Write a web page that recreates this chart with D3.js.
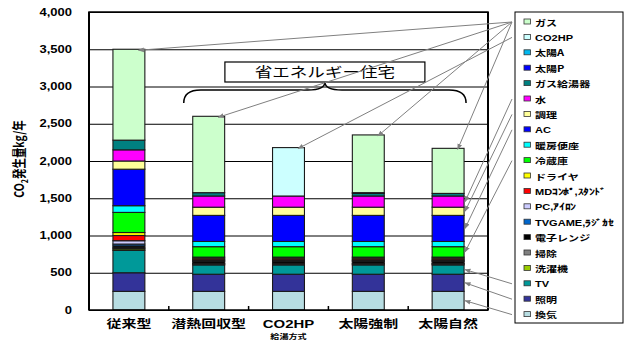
<!DOCTYPE html>
<html>
<head>
<meta charset="UTF-8">
<title>CO2発生量</title>
<script src="https://cdn.jsdelivr.net/npm/d3@7/dist/d3.min.js"></script>
<style>
body { margin: 0; background: #fff; }
svg { display: block; }
</style>
</head>
<body>
<div id="chart"></div>
<script>
// categories (給湯方式)
const cats = ["従来型", "潜熱回収型", "CO2HP", "太陽強制", "太陽自然"];

// series, bottom of stack first; one value per category (kg/年)
const kanki    = [250, 250, 250, 250, 250];   // 換気
const shomei   = [250, 230, 230, 230, 230];   // 照明
const tv       = [300, 125, 125, 125, 125];   // TV
const sentaku  = [20, 10, 10, 10, 10];        // 洗濯機
const soji     = [15, 10, 10, 10, 10];        // 掃除
const range_   = [25, 25, 25, 25, 25];        // 電子レンジ
const tvgame   = [25, 15, 15, 15, 15];        // TVGAME,ラジカセ
const pc       = [45, 10, 10, 10, 10];        // PC,アイロン
const mdcombo  = [70, 20, 20, 20, 20];        // MDコンポ,スタンド
const dryer    = [40, 15, 15, 15, 15];        // ドライヤ
const reizoko  = [270, 140, 140, 140, 140];   // 冷蔵庫
const benza    = [90, 70, 70, 70, 70];        // 暖房便座
const ac       = [490, 350, 350, 350, 350];   // AC
const chori    = [110, 110, 110, 110, 110];   // 調理
const mizu     = [150, 150, 150, 150, 150];   // 水
const kyuto    = [130, 45, 0, 35, 35];        // ガス給湯器
const taiyoP   = [0, 0, 0, 10, 0];            // 太陽P
const taiyoA   = [0, 0, 0, 0, 0];             // 太陽A
const co2hp    = [0, 0, 650, 0, 0];           // CO2HP
const gas      = [1220, 1025, 0, 775, 605];   // ガス

const seriesNames = ["換気", "照明", "TV", "洗濯機", "掃除", "電子レンジ", "TVGAME,ﾗｼﾞｶｾ",
  "PC,ｱｲﾛﾝ", "MDｺﾝﾎﾟ,ｽﾀﾝﾄﾞ", "ドライヤ", "冷蔵庫", "暖房便座", "AC", "調理", "水",
  "ガス給湯器", "太陽P", "太陽A", "CO2HP", "ガス"];
const seriesValues = [kanki, shomei, tv, sentaku, soji, range_, tvgame, pc, mdcombo, dryer,
  reizoko, benza, ac, chori, mizu, kyuto, taiyoP, taiyoA, co2hp, gas];
const seriesColors = ["#b7dde2", "#333399", "#009999", "#99cc00", "#808080", "#000000", "#0066cc",
  "#ccccff", "#ff0000", "#ffff00", "#00ff00", "#00ffff", "#0000ff", "#ffff99", "#ff00ff",
  "#008080", "#0000ff", "#00b8f0", "#ccffff", "#ccffcc"];

const yTicks = [0, 500, 1000, 1500, 2000, 2500, 3000, 3500, 4000];

// leader arrows: legend item -> bar index, where to point
const leaders = [
  ["ガス", 0, "top"], ["ガス", 1, "top"], ["CO2HP", 2, "top"], ["ガス", 3, "top"], ["ガス", 4, "top"],
  ["水", 4, "side"], ["調理", 4, "side"], ["AC", 4, "side"], ["冷蔵庫", 4, "side"],
  ["TV", 4, "side"], ["照明", 4, "side"], ["換気", 4, "side"]
];

const W = 628, H = 340;
const SX = 1.3; // the original text is stretched sideways
const jp = "'Noto Sans CJK JP', 'Noto Sans', sans-serif";
const lat = "'Liberation Sans', Arial, sans-serif";

const svg = d3.select("#chart").append("svg")
  .attr("width", W).attr("height", H);
svg.append("rect").attr("width", W).attr("height", H).attr("fill", "#fff");

const plot = {left: 89, right: 488, top: 12, bottom: 310};

const x = d3.scaleBand().domain(cats)
  .range([plot.left, plot.right])
  .paddingInner(0.6).paddingOuter(0.3);
const y = d3.scaleLinear().domain([0, 4000]).range([plot.bottom, plot.top]);

// table for d3.stack
const table = cats.map(function(c, i) {
  const row = {cat: c};
  seriesNames.forEach(function(s, k) { row[s] = seriesValues[k][i]; });
  return row;
});
const stacked = d3.stack().keys(seriesNames)(table);

// gridlines
svg.append("g")
  .attr("transform", "translate(" + plot.left + ",0)")
  .call(d3.axisLeft(y).tickValues(yTicks).tickSize(-(plot.right - plot.left)).tickFormat(""))
  .call(function(g) {
    g.select(".domain").remove();
    g.selectAll("line").attr("stroke", "#000").attr("stroke-width", 1);
  });

// bars
const layer = svg.append("g").selectAll("g")
  .data(stacked).enter().append("g")
  .attr("fill", function(d, k) { return seriesColors[k]; });

layer.selectAll("rect")
  .data(function(d) { return d.filter(function(p) { return p[1] - p[0] > 0; }); })
  .enter().append("rect")
  .attr("x", function(p) { return x(p.data.cat); })
  .attr("y", function(p) { return y(p[1]); })
  .attr("width", x.bandwidth())
  .attr("height", function(p) { return y(p[0]) - y(p[1]); })
  .attr("stroke", "#1a1a1a")
  .attr("stroke-width", 1.1);

// frame
svg.append("rect")
  .attr("x", plot.left).attr("y", plot.top)
  .attr("width", plot.right - plot.left).attr("height", plot.bottom - plot.top)
  .attr("fill", "none").attr("stroke", "#000").attr("stroke-width", 1.5);
svg.append("line")
  .attr("x1", plot.left).attr("x2", plot.left)
  .attr("y1", plot.top).attr("y2", plot.bottom)
  .attr("stroke", "#000").attr("stroke-width", 2);
svg.append("line")
  .attr("x1", plot.right).attr("x2", plot.right)
  .attr("y1", plot.top).attr("y2", plot.bottom)
  .attr("stroke", "#000").attr("stroke-width", 2);

// little ticks between categories on the bottom
const step = x.step();
svg.append("g").selectAll("line")
  .data(cats.slice(1))
  .enter().append("line")
  .attr("x1", function(c) { return x(c) - (step - x.bandwidth()) / 2; })
  .attr("x2", function(c) { return x(c) - (step - x.bandwidth()) / 2; })
  .attr("y1", plot.bottom).attr("y2", plot.bottom - 4)
  .attr("stroke", "#000").attr("stroke-width", 1.5);

// y axis labels
svg.append("g")
  .attr("transform", "translate(" + plot.left + ",0)")
  .call(d3.axisLeft(y).tickValues(yTicks).tickSize(0).tickFormat(d3.format(",")))
  .call(function(g) {
    g.select(".domain").remove();
    g.selectAll("text")
      .attr("x", 0)
      .attr("transform", "translate(-17,0) scale(" + SX + ",1)")
      .attr("font-family", lat).attr("font-weight", "bold")
      .attr("font-size", 10).attr("fill", "#000");
  });

// helper for stretched text
function label(parent, px, py, str, size, opts) {
  opts = opts || {};
  const g = parent.append("g")
    .attr("transform", "translate(" + px + "," + py + ") scale(" + SX + ",1)");
  return g.append("text")
    .attr("text-anchor", opts.anchor || "middle")
    .attr("font-family", opts.family || jp)
    .attr("font-weight", opts.weight || "bold")
    .attr("font-size", size)
    .attr("fill", "#000")
    .text(str);
}

// x labels
cats.forEach(function(c) {
  label(svg, x(c) + x.bandwidth() / 2, 327.5, c, 11.5, {family: c === "CO2HP" ? lat : jp});
});
label(svg, x("CO2HP") + x.bandwidth() / 2, 338.5, "給湯方式", 7);

// y title with subscript 2
const yt = svg.append("g")
  .attr("transform", "translate(24,159) scale(" + SX + ",1) rotate(-90)")
  .append("text")
  .attr("text-anchor", "middle")
  .attr("font-family", jp).attr("font-weight", "bold")
  .attr("font-size", 10.5).attr("fill", "#000");
yt.append("tspan").text("CO");
yt.append("tspan").attr("font-size", 7).attr("dy", 3).text("2");
yt.append("tspan").attr("dy", -3).text("発生量kg/年");

// brace + box for 省エネルギー住宅
const bx0 = x(cats[1]) - 9, bx1 = x(cats[4]) + x.bandwidth() + 2;
const bmid = (bx0 + bx1) / 2, by = 90;
svg.append("path")
  .attr("d", "M" + bx0 + "," + (by + 13) + " Q" + bx0 + "," + by + " " + (bx0 + 17) + "," + by +
    " L" + (bmid - 17) + "," + by + " Q" + bmid + "," + by + " " + bmid + "," + (by - 8) +
    " Q" + bmid + "," + by + " " + (bmid + 17) + "," + by +
    " L" + (bx1 - 17) + "," + by + " Q" + bx1 + "," + by + " " + bx1 + "," + (by + 13))
  .attr("fill", "none").attr("stroke", "#000").attr("stroke-width", 1.5);
svg.append("rect")
  .attr("x", bmid - 100).attr("y", 62).attr("width", 200).attr("height", 20)
  .attr("fill", "#fff").attr("stroke", "#000").attr("stroke-width", 1.2);
label(svg, bmid, 77, "省エネルギー住宅", 13.5, {weight: "normal"});

// legend
const legendNames = seriesNames.slice().reverse();
const legendColors = seriesColors.slice().reverse();
const lgY0 = 22, lgStep = 15.4;
svg.append("rect")
  .attr("x", 515).attr("y", 12).attr("width", 108).attr("height", 311)
  .attr("fill", "#fff").attr("stroke", "#000").attr("stroke-width", 1);
const lg = svg.append("g").selectAll("g")
  .data(legendNames).enter().append("g")
  .attr("transform", function(d, i) { return "translate(0," + (lgY0 + i * lgStep) + ")"; });
lg.append("rect")
  .attr("x", 524).attr("y", -3).attr("width", 6.5).attr("height", 5)
  .attr("fill", function(d, i) { return legendColors[i]; })
  .attr("stroke", "#333").attr("stroke-width", 0.8);
lg.each(function(d) {
  const ascii = /^[A-Za-z0-9]/.test(d);
  label(d3.select(this), 535, 3.5, d, 8.5, {anchor: "start", family: ascii ? lat : jp});
});

// leader arrows
svg.append("defs").append("marker")
  .attr("id", "ah").attr("viewBox", "0 0 10 10")
  .attr("refX", 9).attr("refY", 5)
  .attr("markerWidth", 6).attr("markerHeight", 6)
  .attr("orient", "auto-start-reverse")
  .append("path").attr("d", "M0,1 L10,5 L0,9 z").attr("fill", "#808080");

svg.append("g").selectAll("line")
  .data(leaders).enter().append("line")
  .attr("x1", 512)
  .attr("y1", function(d) { return lgY0 + legendNames.indexOf(d[0]) * lgStep; })
  .attr("x2", function(d) {
    const c = cats[d[1]];
    return d[2] === "top" ? x(c) + x.bandwidth() * 0.8 : x(c) + x.bandwidth() + 1;
  })
  .attr("y2", function(d) {
    const k = seriesNames.indexOf(d[0]);
    const p = stacked[k][d[1]];
    return d[2] === "top" ? y(p[1]) + 1 : y((p[0] + p[1]) / 2);
  })
  .attr("stroke", "#808080").attr("stroke-width", 1)
  .attr("marker-end", "url(#ah)");
</script>
</body>
</html>
